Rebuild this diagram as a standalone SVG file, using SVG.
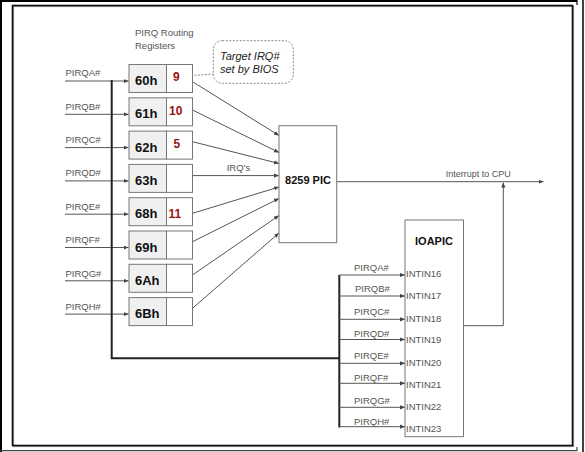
<svg xmlns="http://www.w3.org/2000/svg" width="585" height="452" viewBox="0 0 585 452">
<defs>
<style>
.lbl{font-family:"Liberation Sans",Arial,sans-serif;font-size:9.5px;fill:#555}
.reg{font-family:"Liberation Sans",Arial,sans-serif;font-size:13px;font-weight:bold;fill:#111}
.num{font-family:"Liberation Sans",Arial,sans-serif;font-size:12px;font-weight:bold;fill:#9a1212}
.big{font-family:"Liberation Sans",Arial,sans-serif;font-size:11px;font-weight:bold;fill:#111}
.note{font-family:"Liberation Sans",Arial,sans-serif;font-size:11px;font-style:italic;fill:#222}
.ln{stroke:#555;stroke-width:1;fill:none}
.bar{stroke:#222;stroke-width:2;fill:none}
.box{stroke:#777;stroke-width:1}
</style>
<marker id="ah" viewBox="0 0 6 6" refX="6" refY="3" markerWidth="5" markerHeight="5" orient="auto" markerUnits="userSpaceOnUse">
<path d="M0,0.5 L6,3 L0,5.5 z" fill="#444"/>
</marker>
</defs>
<rect width="585" height="452" fill="#fff"/>
<!-- frame -->
<g id="frame">
<rect x="13.5" y="6.5" width="560" height="440" fill="none" stroke="#999" stroke-width="1.2"/>
<rect x="12.5" y="5.5" width="560" height="440" fill="none" stroke="#111" stroke-width="1.6"/>
<line x1="1" y1="0" x2="1" y2="452" stroke="#000" stroke-width="2"/>
<line x1="0" y1="1" x2="577" y2="1" stroke="#000" stroke-width="2"/>
<line x1="577" y1="0" x2="577" y2="5" stroke="#000" stroke-width="1.2"/>
<line x1="583" y1="0" x2="583" y2="452" stroke="#000" stroke-width="1.5"/>
<line x1="0" y1="450.7" x2="577" y2="450.7" stroke="#444" stroke-width="1.2"/>
<line x1="577" y1="447" x2="577" y2="451" stroke="#444" stroke-width="1.2"/>
</g>
<text class="lbl" x="135" y="36">PIRQ Routing</text>
<text class="lbl" x="135" y="49">Registers</text>
<!-- connectors -->
<g id="connectors">
<line class="ln" x1="65" y1="81" x2="128.5" y2="81" marker-end="url(#ah)"/>
<line class="ln" x1="65" y1="114.3" x2="128.5" y2="114.3" marker-end="url(#ah)"/>
<line class="ln" x1="65" y1="147.6" x2="128.5" y2="147.6" marker-end="url(#ah)"/>
<line class="ln" x1="65" y1="180.9" x2="128.5" y2="180.9" marker-end="url(#ah)"/>
<line class="ln" x1="65" y1="214.2" x2="128.5" y2="214.2" marker-end="url(#ah)"/>
<line class="ln" x1="65" y1="247.5" x2="128.5" y2="247.5" marker-end="url(#ah)"/>
<line class="ln" x1="65" y1="280.8" x2="128.5" y2="280.8" marker-end="url(#ah)"/>
<line class="ln" x1="65" y1="314.1" x2="128.5" y2="314.1" marker-end="url(#ah)"/>
<polyline class="bar" points="111.7,80 111.7,358.3 339.3,358.3"/>
<line class="bar" x1="339.3" y1="275" x2="339.3" y2="427.5"/>
<line class="ln" x1="192.5" y1="81.7" x2="279" y2="135.5" marker-end="url(#ah)"/>
<line class="ln" x1="192.5" y1="110" x2="279" y2="152.5" marker-end="url(#ah)"/>
<line class="ln" x1="192.5" y1="141.7" x2="279" y2="163.5" marker-end="url(#ah)"/>
<line class="ln" x1="192.5" y1="175.6" x2="279" y2="175.6" marker-end="url(#ah)"/>
<line class="ln" x1="192.5" y1="213.3" x2="279" y2="187" marker-end="url(#ah)"/>
<line class="ln" x1="192.5" y1="241.7" x2="279" y2="198.5" marker-end="url(#ah)"/>
<line class="ln" x1="192.5" y1="275" x2="279" y2="215.5" marker-end="url(#ah)"/>
<line class="ln" x1="192.5" y1="308.3" x2="279" y2="233" marker-end="url(#ah)"/>
<line class="ln" x1="336.7" y1="181.7" x2="543.5" y2="181.7" marker-end="url(#ah)"/>
<polyline class="ln" points="463.5,325.7 503.3,325.7 503.3,182.5" marker-end="url(#ah)"/>
<line class="ln" x1="339.3" y1="275" x2="405" y2="275" marker-end="url(#ah)"/>
<line class="ln" x1="339.3" y1="296" x2="405" y2="296" marker-end="url(#ah)"/>
<line class="ln" x1="339.3" y1="319.3" x2="405" y2="319.3" marker-end="url(#ah)"/>
<line class="ln" x1="339.3" y1="339.5" x2="405" y2="339.5" marker-end="url(#ah)"/>
<line class="ln" x1="339.3" y1="363.3" x2="405" y2="363.3" marker-end="url(#ah)"/>
<line class="ln" x1="339.3" y1="383.3" x2="405" y2="383.3" marker-end="url(#ah)"/>
<line class="ln" x1="339.3" y1="407.3" x2="405" y2="407.3" marker-end="url(#ah)"/>
<line class="ln" x1="339.3" y1="426.7" x2="405" y2="426.7" marker-end="url(#ah)"/>
<line x1="184" y1="76" x2="213.3" y2="74" stroke="#888" stroke-width="1" stroke-dasharray="2,1.5"/>
</g>
<text class="lbl" x="226.7" y="171">IRQ's</text>
<text class="lbl" x="445.7" y="176.7" style="font-size:9px">Interrupt to CPU</text>
<!-- left PIRQ labels -->
<g id="pirq-labels">
<text class="lbl" x="65.5" y="76">PIRQA#</text>
<text class="lbl" x="65.5" y="109.5">PIRQB#</text>
<text class="lbl" x="65.5" y="143">PIRQC#</text>
<text class="lbl" x="65.5" y="176">PIRQD#</text>
<text class="lbl" x="65.5" y="209.5">PIRQE#</text>
<text class="lbl" x="65.5" y="243">PIRQF#</text>
<text class="lbl" x="65.5" y="276.5">PIRQG#</text>
<text class="lbl" x="65.5" y="310">PIRQH#</text>
</g>
<!-- registers -->
<g id="reg60">
<rect class="box" x="129" y="64.5" width="37.5" height="28" fill="#f0f0f0"/>
<rect class="box" x="166.5" y="64.5" width="26" height="28" fill="#fff"/>
<text class="reg" x="135" y="85">60h</text>
<text class="num" x="173" y="80.5">9</text>
</g>
<g id="reg61">
<rect class="box" x="129" y="97.8" width="37.5" height="28" fill="#f0f0f0"/>
<rect class="box" x="166.5" y="97.8" width="26" height="28" fill="#fff"/>
<text class="reg" x="135" y="118.4">61h</text>
<text class="num" x="169" y="115">10</text>
</g>
<g id="reg62">
<rect class="box" x="129" y="131.1" width="37.5" height="28" fill="#f0f0f0"/>
<rect class="box" x="166.5" y="131.1" width="26" height="28" fill="#fff"/>
<text class="reg" x="135" y="151.7">62h</text>
<text class="num" x="173.5" y="148.3">5</text>
</g>
<g id="reg63">
<rect class="box" x="129" y="164.4" width="37.5" height="28" fill="#f0f0f0"/>
<rect class="box" x="166.5" y="164.4" width="26" height="28" fill="#fff"/>
<text class="reg" x="135" y="185">63h</text>
</g>
<g id="reg68">
<rect class="box" x="129" y="197.7" width="37.5" height="28" fill="#f0f0f0"/>
<rect class="box" x="166.5" y="197.7" width="26" height="28" fill="#fff"/>
<text class="reg" x="135" y="218.3">68h</text>
<text class="num" x="168.5" y="218">11</text>
</g>
<g id="reg69">
<rect class="box" x="129" y="231" width="37.5" height="28" fill="#f0f0f0"/>
<rect class="box" x="166.5" y="231" width="26" height="28" fill="#fff"/>
<text class="reg" x="135" y="251.6">69h</text>
</g>
<g id="reg6A">
<rect class="box" x="129" y="264.3" width="37.5" height="28" fill="#f0f0f0"/>
<rect class="box" x="166.5" y="264.3" width="26" height="28" fill="#fff"/>
<text class="reg" x="135" y="284.9">6Ah</text>
</g>
<g id="reg6B">
<rect class="box" x="129" y="297.6" width="37.5" height="28" fill="#f0f0f0"/>
<rect class="box" x="166.5" y="297.6" width="26" height="28" fill="#fff"/>
<text class="reg" x="135" y="318.2">6Bh</text>
</g>
<!-- callout -->
<g id="callout">
<rect x="213.3" y="40.7" width="80" height="42.6" rx="9" fill="#fff" stroke="#888" stroke-width="1" stroke-dasharray="2,1.5"/>
<text class="note" x="220" y="60">Target IRQ#</text>
<text class="note" x="220" y="72.5">set by BIOS</text>
</g>
<!-- 8259 PIC -->
<g id="pic">
<rect x="279" y="125.7" width="57.7" height="117" fill="#fff" stroke="#777" stroke-width="1"/>
<text class="big" x="308" y="184" text-anchor="middle">8259 PIC</text>
</g>
<!-- IOAPIC -->
<g id="ioapic">
<rect x="405" y="220" width="58.5" height="216.7" fill="#fff" stroke="#777" stroke-width="1"/>
<text class="big" x="434" y="245" text-anchor="middle">IOAPIC</text>
<text class="lbl" x="406" y="276.7">INTIN16</text>
<text class="lbl" x="406" y="299.3">INTIN17</text>
<text class="lbl" x="406" y="321.7">INTIN18</text>
<text class="lbl" x="406" y="343.3">INTIN19</text>
<text class="lbl" x="406" y="366">INTIN20</text>
<text class="lbl" x="406" y="387.7">INTIN21</text>
<text class="lbl" x="406" y="410">INTIN22</text>
<text class="lbl" x="406" y="432.3">INTIN23</text>
</g>
<g id="ioapic-pirq-labels">
<text class="lbl" x="354" y="270.7">PIRQA#</text>
<text class="lbl" x="355" y="292.3">PIRQB#</text>
<text class="lbl" x="354" y="315">PIRQC#</text>
<text class="lbl" x="354" y="336.7">PIRQD#</text>
<text class="lbl" x="354" y="359.3">PIRQE#</text>
<text class="lbl" x="354" y="380.7">PIRQF#</text>
<text class="lbl" x="354" y="404">PIRQG#</text>
<text class="lbl" x="354" y="425">PIRQH#</text>
</g>
</svg>
